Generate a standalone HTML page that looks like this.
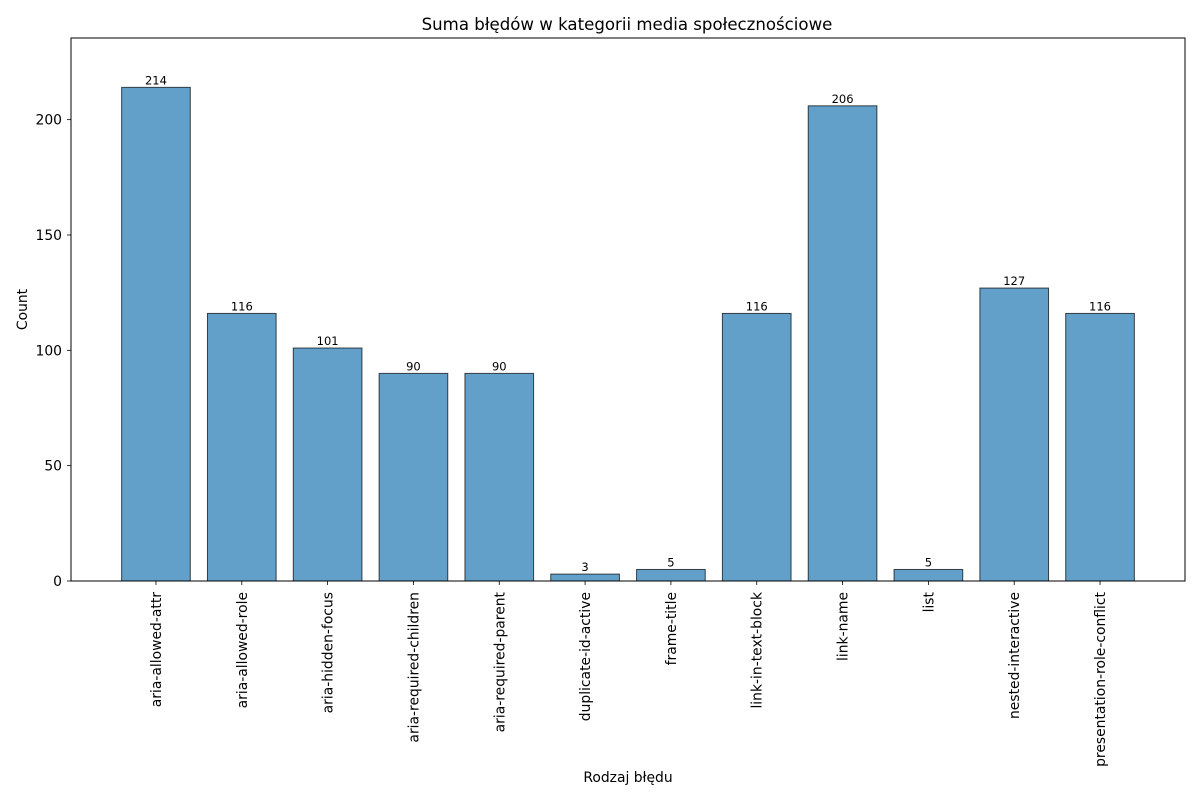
<!DOCTYPE html>
<html><head><meta charset="utf-8"><style>
html,body{margin:0;padding:0;background:#fff;}
svg{display:block;font-family:"DejaVu Sans","Liberation Sans",sans-serif;}
</style></head><body>
<svg id="chart" width="1200" height="800" viewBox="0 0 1200 800"></svg>
<script>
const categories = ["aria-allowed-attr","aria-allowed-role","aria-hidden-focus","aria-required-children","aria-required-parent","duplicate-id-active","frame-title","link-in-text-block","link-name","list","nested-interactive","presentation-role-conflict"];
const counts = [214,116,101,90,90,3,5,116,206,5,127,116];
const yTicks = [0,50,100,150,200];

const NS="http://www.w3.org/2000/svg";
const svg=document.getElementById('chart');
const L=71,R=1185,T=38,B=581;
const yMax=Math.max(...counts)*1.1;
const n=categories.length;
const xMin=-0.4-(n-0.2)*0.05, xMax=n-1+0.4+(n-0.2)*0.05;
const xs=v=>L+(v-xMin)/(xMax-xMin)*(R-L);
const ys=v=>B-v/yMax*(B-T);
function el(tag,attrs,text){const e=document.createElementNS(NS,tag);for(const k in attrs)e.setAttribute(k,attrs[k]);if(text!==undefined)e.textContent=text;svg.appendChild(e);return e;}

let t=el('text',{x:627,y:30,'text-anchor':'middle','font-size':16.6,fill:'#000'},'Suma błędów w kategorii media społecznościowe');



counts.forEach((c,i)=>{
  const x0=xs(i-0.4),x1=xs(i+0.4);
  const r=el('rect',{x:x0,y:ys(c),width:x1-x0,height:B-ys(c),fill:'rgba(31,119,180,0.7)',stroke:'rgba(0,0,0,0.7)','stroke-width':1});
  
  
  const lb=el('text',{x:xs(i),y:ys(c)-3,'text-anchor':'middle','font-size':11.5,fill:'#000'},String(c));
  
  
  el('line',{x1:xs(i),x2:xs(i),y1:B,y2:B+4,stroke:'#000','stroke-width':0.8});
  const xl=el('text',{transform:`translate(${xs(i)+5},${B+11}) rotate(-90)`,'text-anchor':'end','font-size':13.9,fill:'#000'},categories[i]);
  
  
});

yTicks.forEach(v=>{
  el('line',{x1:L-4,x2:L,y1:ys(v),y2:ys(v),stroke:'#000','stroke-width':0.8});
  const yl=el('text',{x:L-9,y:ys(v)+5,'text-anchor':'end','font-size':13.9,fill:'#000'},String(v));
  
  
});

const frame=el('rect',{x:L,y:T,width:R-L,height:B-T,fill:'none',stroke:'#000','stroke-width':1});



const yt=el('text',{transform:`translate(27,${(T+B)/2}) rotate(-90)`,'text-anchor':'middle','font-size':13.9,fill:'#000'},'Count');


const xt=el('text',{x:628,y:782,'text-anchor':'middle','font-size':13.9,fill:'#000'},'Rodzaj błędu');


</script>
</body></html>
